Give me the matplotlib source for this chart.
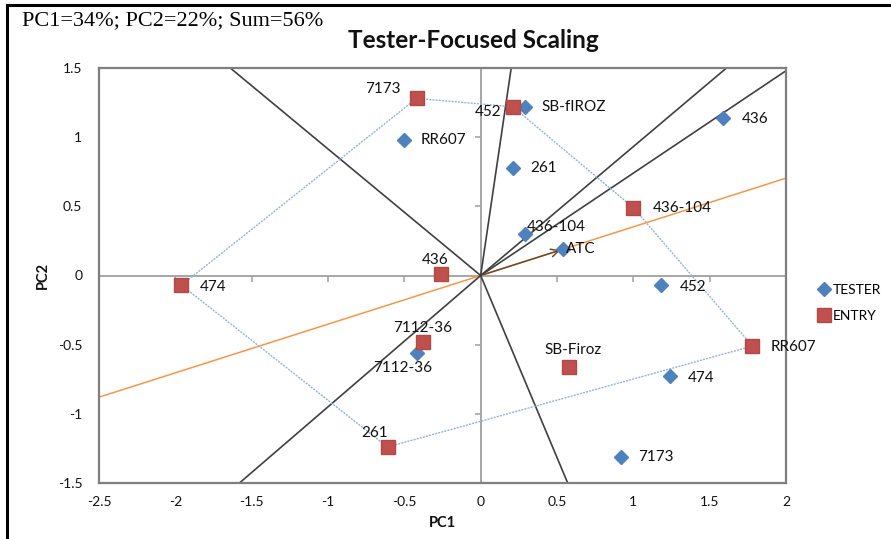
import matplotlib
matplotlib.use("Agg")
import matplotlib.pyplot as plt
from matplotlib.lines import Line2D

# testers (blue diamonds)
tester_names = ["SB-fIROZ", "436", "RR607", "261", "436-104", "ATC",
                "452", "7112-36", "474", "7173"]
tester_x = [0.29, 1.59, -0.50, 0.21, 0.29, 0.54, 1.18, -0.42, 1.24, 0.92]
tester_y = [1.22, 1.14, 0.98, 0.78, 0.30, 0.19, -0.07, -0.56, -0.73, -1.31]

# entries (red squares)
entry_names = ["7173", "452", "436-104", "436", "474", "7112-36",
               "SB-Firoz", "RR607", "261"]
entry_x = [-0.42, 0.21, 1.00, -0.26, -1.96, -0.38, 0.58, 1.78, -0.61]
entry_y = [1.28, 1.22, 0.49, 0.01, -0.07, -0.48, -0.66, -0.51, -1.24]

# polygon vertices (order of entries around the hull)
hull = ["7173", "452", "436-104", "RR607", "261", "474", "7173"]

# rays from origin, end points on the frame
ray_x = [-1.64, 0.20, 1.61, 2.0, 0.57, -1.58]
ray_y = [1.5, 1.5, 1.5, 1.48, -1.5, -1.5]

xticks = [-2.5, -2, -1.5, -1, -0.5, 0, 0.5, 1, 1.5, 2]
yticks = [-1.5, -1, -0.5, 0, 0.5, 1, 1.5]

# label offsets in points (dx, dy, ha)
tester_off = {"SB-fIROZ": (12, 0, "left"), "436": (13, -1, "left"),
              "RR607": (12, 0, "left"), "261": (13, 0, "left"),
              "436-104": (1, 5, "left"), "ATC": (2, 0, "left"),
              "452": (14, -1, "left"), "7112-36": (-10, -11, "center"),
              "474": (13, -1, "left"), "7173": (12, 0, "left")}
entry_off = {"7173": (-24, 7, "center"), "452": (-8, -4, "right"),
             "436-104": (14, 0, "left"), "436": (-4, 10, "center"),
             "474": (13, -1, "left"), "7112-36": (0, 10, "center"),
             "SB-Firoz": (3, 12, "center"), "RR607": (13, -1, "left"),
             "261": (-9, 10, "center")}

blue = "#4F81BD"
red = "#C0504D"
font = ["Lato", "DejaVu Sans"]
txtc = "#111111"

fig = plt.figure(figsize=(8.91, 5.39), dpi=100)
ax = fig.add_axes([99 / 891, 56 / 539, 687 / 891, 415 / 539])
ax.set_xlim(-2.5, 2)
ax.set_ylim(-1.5, 1.5)

for s in ax.spines.values():
    s.set_color("#7f7f7f")
    s.set_linewidth(1.6)
ax.set_xticks(xticks)
ax.set_yticks(yticks)
ax.set_xticklabels([f"{t:g}" for t in xticks], fontfamily=font, fontsize=10, color=txtc)
ax.set_yticklabels([f"{t:g}" for t in yticks], fontfamily=font, fontsize=10, color=txtc)
ax.tick_params(axis="x", length=0, pad=9)
ax.tick_params(axis="y", length=0, pad=12)

# zero axes with tick marks
ax.axhline(0, color="#a6a6a6", lw=1.4, zorder=1)
ax.axvline(0, color="#a6a6a6", lw=1.4, zorder=1)
ax.plot(xticks, [0] * len(xticks), ls="none", marker=3, ms=4, mec="#a6a6a6", mew=1.2, zorder=1)
ax.plot([0] * len(yticks), yticks, ls="none", marker=0, ms=4, mec="#a6a6a6", mew=1.2, zorder=1)

# ATC line and arrow
atc_i = tester_names.index("ATC")
slope = tester_y[atc_i] / tester_x[atc_i]
ax.plot([-2.5, 2], [-2.5 * slope, 2 * slope], color="#F79646", lw=1.1, zorder=2)
ax.annotate("", xy=(tester_x[atc_i], tester_y[atc_i]), xytext=(0, 0),
            arrowprops=dict(arrowstyle="->", color="#6b4a2a", lw=1.1,
                            mutation_scale=14), zorder=3)

# rays
for rx, ry in zip(ray_x, ray_y):
    ax.plot([0, rx], [0, ry], color="#404040", lw=1.2, zorder=2)

# polygon
hx = [entry_x[entry_names.index(n)] for n in hull]
hy = [entry_y[entry_names.index(n)] for n in hull]
ax.plot(hx, hy, color="#95B3D7", lw=1.0, ls=(0, (1.5, 0.8)), zorder=2)

ax.plot(tester_x, tester_y, ls="none", marker="D", ms=7.5, color=blue,
        label="TESTER", zorder=4)
ax.plot(entry_x, entry_y, ls="none", marker="s", ms=10, color=red,
        mec="#b04a47", label="ENTRY", zorder=4)

for n, x, y in zip(tester_names, tester_x, tester_y):
    dx, dy, ha = tester_off[n]
    ax.annotate(n, (x, y), xytext=(dx, dy), textcoords="offset points",
                ha=ha, va="center", fontsize=11, fontfamily=font, color=txtc, zorder=5)
for n, x, y in zip(entry_names, entry_x, entry_y):
    dx, dy, ha = entry_off[n]
    ax.annotate(n, (x, y), xytext=(dx, dy), textcoords="offset points",
                ha=ha, va="center", fontsize=11, fontfamily=font, color=txtc, zorder=5)

ax.set_xlabel("PC1", fontfamily=font, fontsize=10.5, fontweight="bold", color=txtc, labelpad=6)
ax.set_ylabel("PC2", fontfamily=font, fontsize=10.5, fontweight="bold", color=txtc, labelpad=6)

fig.text(473 / 891, 1 - 40 / 539, "Tester-Focused Scaling", ha="center", va="center",
         fontsize=17.5, fontweight="bold", fontfamily=font, color=txtc)
fig.text(22 / 891, 1 - 21 / 539, "PC1=34%; PC2=22%; Sum=56%", ha="left", va="center",
         fontsize=16, fontfamily=["Liberation Serif", "DejaVu Serif"], color="black")

fig.legend(loc="center left", bbox_to_anchor=(816 / 891, 1 - 303 / 539),
           frameon=False, handlelength=0.7, handletextpad=0.3, labelspacing=1.05,
           borderaxespad=0, borderpad=0.2, prop={"family": font, "size": 10})

# figure border (left and top)
fig.add_artist(Line2D([7 / 891, 7 / 891], [0, 1 - 5 / 539], color="black", lw=2.2))
fig.add_artist(Line2D([7 / 891, 1], [1 - 5 / 539, 1 - 5 / 539], color="black", lw=2.2))

fig.savefig("out.png", dpi=100)
